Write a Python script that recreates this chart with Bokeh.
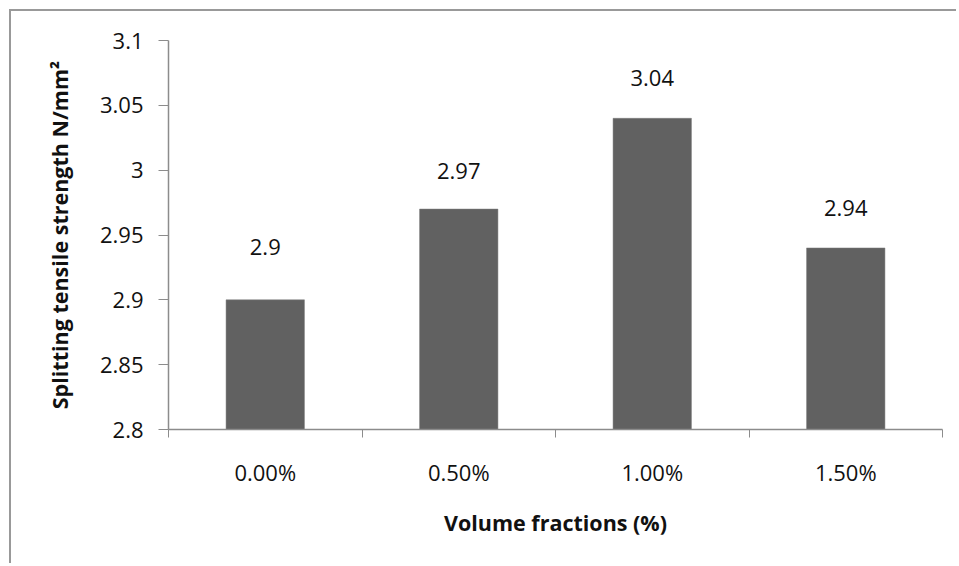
from bokeh.plotting import figure
from bokeh.models import ColumnDataSource, FixedTicker, CustomJSTickFormatter, LabelSet, Range1d
from bokeh.core.properties import value
from bokeh.embed import file_html
from bokeh.resources import INLINE

categories = ["0.00%", "0.50%", "1.00%", "1.50%"]
values = [2.9, 2.97, 3.04, 2.94]
value_labels = ["2.9", "2.97", "3.04", "2.94"]
y_ticks = [2.8, 2.85, 2.9, 2.95, 3.0, 3.05, 3.1]

FONT = "Open Sans"
label_offsets = [53, 38, 40, 40]

xs = [i + 0.5 for i in range(len(categories))]
src = ColumnDataSource(dict(x=xs, top=values, lab=value_labels, off=label_offsets))

p = figure(width=947, height=554, output_backend="svg", toolbar_location=None,
           x_range=Range1d(0, len(categories)), y_range=Range1d(2.8, 3.1),
           min_border_left=157, min_border_right=16, min_border_top=29, min_border_bottom=136)
p.styles = {"margin-left": "9px", "margin-top": "9px",
            "border-left": "2px solid #999999", "border-top": "2px solid #999999"}
p.outline_line_color = None
p.grid.visible = False
p.background_fill_color = "white"

p.vbar(x="x", top="top", bottom=2.8, width=0.405, source=src,
       fill_color="#616161", line_color="#7a7a7a", line_width=0.5)

labels = LabelSet(x="x", y="top", text="lab", y_offset="off", source=src,
                  text_align="center", text_baseline="middle",
                  text_font=value(FONT), text_font_size="22px", text_color="#111111")
p.add_layout(labels)

# x axis
xa = p.xaxis[0]
xa.ticker = FixedTicker(ticks=xs, minor_ticks=list(range(len(categories) + 1)))
xa.major_label_overrides = {x: c for x, c in zip(xs, categories)}
xa.major_tick_out = 0
xa.major_tick_in = 0
xa.minor_tick_out = 8
xa.minor_tick_in = 0
xa.minor_tick_line_color = "#8c8c8c"
xa.axis_line_color = "#8c8c8c"
xa.axis_line_width = 1.5
xa.major_label_text_font = FONT
xa.major_label_text_font_size = "22px"
xa.major_label_text_color = "#111111"
xa.major_label_standoff = 19
xa.axis_label = "Volume fractions (%)"
xa.axis_label_text_font = FONT
xa.axis_label_text_font_style = "bold"
xa.axis_label_text_font_size = "21.5px"
xa.axis_label_text_color = "#111111"
xa.axis_label_standoff = 18

# y axis
ya = p.yaxis[0]
ya.ticker = FixedTicker(ticks=y_ticks, minor_ticks=[])
ya.formatter = CustomJSTickFormatter(code="return String(parseFloat(tick.toFixed(2)));")
ya.major_tick_out = 10
ya.major_tick_in = 0
ya.major_tick_line_color = "#8c8c8c"
ya.axis_line_color = "#8c8c8c"
ya.axis_line_width = 1.5
ya.major_label_text_font = FONT
ya.major_label_text_font_size = "22px"
ya.major_label_text_color = "#111111"
ya.major_label_standoff = 15
ya.axis_label = "Splitting tensile strength N/mm²"
ya.axis_label_text_font = FONT
ya.axis_label_text_font_style = "bold"
ya.axis_label_text_font_size = "21.5px"
ya.axis_label_text_color = "#111111"
ya.axis_label_standoff = 23

open("out.html", "w").write(file_html(p, INLINE))
